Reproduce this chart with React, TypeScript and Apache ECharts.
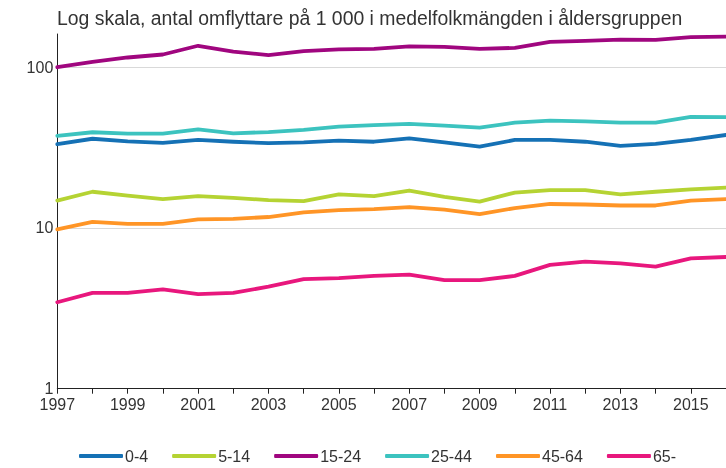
import React, { useEffect, useRef } from "react";
import * as echarts from "echarts";

const years = ["1997","1998","1999","2000","2001","2002","2003","2004","2005","2006","2007","2008","2009","2010","2011","2012","2013","2014","2015","2016"];
const seriesNames = ["0-4", "5-14", "15-24", "25-44", "45-64", "65-"];
const age0to4 = [33.2, 35.9, 34.6, 33.8, 35.3, 34.4, 33.7, 34.1, 34.9, 34.4, 36.1, 34.1, 32.1, 35.3, 35.3, 34.4, 32.4, 33.4, 35.3, 37.9];
const age5to14 = [14.8, 16.8, 15.9, 15.1, 15.8, 15.4, 14.9, 14.7, 16.2, 15.8, 17.1, 15.6, 14.6, 16.6, 17.2, 17.2, 16.2, 16.8, 17.4, 17.8];
const age15to24 = [100, 108, 115, 120, 136, 125, 119, 126, 129, 130, 135, 134, 130, 132, 144, 146, 148.5, 148, 154, 155];
const age25to44 = [37.4, 39.4, 38.6, 38.6, 41.1, 38.8, 39.5, 40.8, 42.7, 43.7, 44.4, 43.3, 42.1, 45.2, 46.5, 46, 45.2, 45.2, 49.1, 49];
const age45to64 = [9.8, 10.9, 10.6, 10.6, 11.3, 11.4, 11.7, 12.5, 12.9, 13.1, 13.5, 13.0, 12.2, 13.3, 14.1, 14.0, 13.8, 13.8, 14.8, 15.1];
const age65plus = [3.45, 3.95, 3.95, 4.15, 3.88, 3.95, 4.31, 4.8, 4.87, 5.03, 5.12, 4.74, 4.74, 5.03, 5.89, 6.17, 6.03, 5.74, 6.47, 6.6];
const seriesValues = [age0to4, age5to14, age15to24, age25to44, age45to64, age65plus];
const colors = ["#1571b5", "#b5d333", "#a0067f", "#3cc3bf", "#ff9526", "#e8177d"];
const titleText = "Log skala, antal omflyttare på 1 000 i medelfolkmängden i åldersgruppen";

export default function App() {
  const ref = useRef<HTMLDivElement>(null);
  useEffect(() => {
    if (!ref.current) return;
    const chart = echarts.init(ref.current, null, { renderer: "svg" });
    const font = "'Liberation Sans', Arial, sans-serif";
    chart.setOption({
      animation: false,
      title: {
        text: titleText,
        left: 57,
        top: 8,
        padding: 0,
        textStyle: { fontSize: 19.4, fontWeight: "normal", color: "#333", fontFamily: font },
      },
      legend: {
        bottom: 4,
        left: 79,
        padding: 0,
        icon: "roundRect",
        itemWidth: 44,
        itemHeight: 4,
        itemGap: 24,
        textStyle: { fontSize: 16, color: "#333", fontFamily: font, padding: [0, 0, 0, -3] },
        data: seriesNames,
      },
      grid: { left: 57.3, right: -1, top: 34, bottom: 79.3, containLabel: false },
      xAxis: {
        type: "category",
        data: years,
        boundaryGap: false,
        axisLine: { lineStyle: { color: "#222", width: 1 } },
        axisTick: { show: true, interval: 0, length: 5, lineStyle: { color: "#222" } },
        axisLabel: { interval: 1, color: "#333", fontSize: 16, fontFamily: font, margin: 8 },
        splitLine: { show: false },
      },
      yAxis: {
        type: "log",
        logBase: 10,
        min: 1,
        max: 161,
        axisLine: { show: true, lineStyle: { color: "#222", width: 1 } },
        axisTick: { show: false },
        axisLabel: { color: "#333", fontSize: 16, fontFamily: font, margin: 4, showMaxLabel: false },
        splitLine: { show: true, showMaxLine: false, showMinLine: false, lineStyle: { color: "#d9d9d9", width: 1 } },
      },
      series: seriesNames.map((name, i) => ({
        name,
        type: "line",
        data: seriesValues[i],
        symbol: "none",
        smooth: false,
        lineStyle: { color: colors[i], width: 3.8, cap: "round", join: "round" },
        itemStyle: { color: colors[i] },
      })),
    });
    return () => chart.dispose();
  }, []);
  return <div ref={ref} style={{ position: "fixed", left: 0, top: 0, width: 726, height: 468 }} />;
}
